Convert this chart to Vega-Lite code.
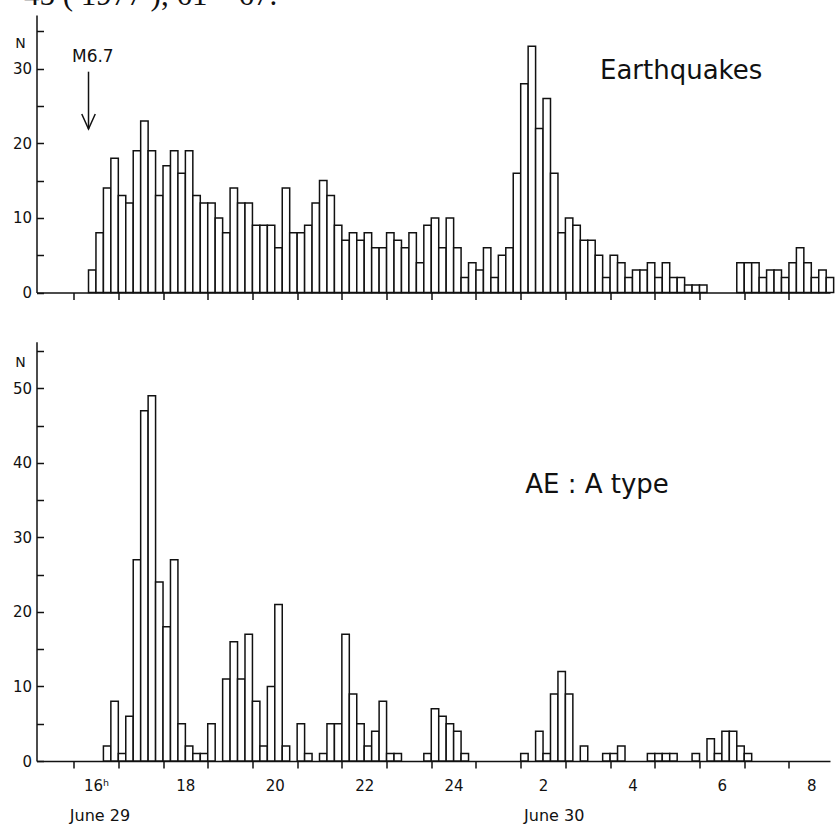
{
  "$schema": "https://vega.github.io/schema/vega-lite/v6.json",
  "autosize": {"type": "none"},
  "width": 793.5,
  "height": 746,
  "padding": {"left": 36.5, "top": 15, "right": 5, "bottom": 64},
  "background": "white",
  "config": {
    "view": {"stroke": null},
    "font": "DejaVu Sans",
    "axis": {"grid": false, "domainColor": "#111", "tickColor": "#111", "domainWidth": 1.5, "tickWidth": 1.5, "labelColor": "#111", "titleColor": "#111", "labelFont": "DejaVu Sans", "titleFont": "DejaVu Sans"}
  },
  "datasets": {
    "eq": [
      {"s":20,"e":30,"n":3},{"s":30,"e":40,"n":8},{"s":40,"e":50,"n":14},{"s":50,"e":60,"n":18},{"s":60,"e":70,"n":13},{"s":70,"e":80,"n":12},{"s":80,"e":90,"n":19},{"s":90,"e":100,"n":23},{"s":100,"e":110,"n":19},{"s":110,"e":120,"n":13},
      {"s":120,"e":130,"n":17},{"s":130,"e":140,"n":19},{"s":140,"e":150,"n":16},{"s":150,"e":160,"n":19},{"s":160,"e":170,"n":13},{"s":170,"e":180,"n":12},{"s":180,"e":190,"n":12},{"s":190,"e":200,"n":10},{"s":200,"e":210,"n":8},{"s":210,"e":220,"n":14},
      {"s":220,"e":230,"n":12},{"s":230,"e":240,"n":12},{"s":240,"e":250,"n":9},{"s":250,"e":260,"n":9},{"s":260,"e":270,"n":9},{"s":270,"e":280,"n":6},{"s":280,"e":290,"n":14},{"s":290,"e":300,"n":8},{"s":300,"e":310,"n":8},{"s":310,"e":320,"n":9},
      {"s":320,"e":330,"n":12},{"s":330,"e":340,"n":15},{"s":340,"e":350,"n":13},{"s":350,"e":360,"n":9},{"s":360,"e":370,"n":7},{"s":370,"e":380,"n":8},{"s":380,"e":390,"n":7},{"s":390,"e":400,"n":8},{"s":400,"e":410,"n":6},{"s":410,"e":420,"n":6},
      {"s":420,"e":430,"n":8},{"s":430,"e":440,"n":7},{"s":440,"e":450,"n":6},{"s":450,"e":460,"n":8},{"s":460,"e":470,"n":4},{"s":470,"e":480,"n":9},{"s":480,"e":490,"n":10},{"s":490,"e":500,"n":6},{"s":500,"e":510,"n":10},{"s":510,"e":520,"n":6},
      {"s":520,"e":530,"n":2},{"s":530,"e":540,"n":4},{"s":540,"e":550,"n":3},{"s":550,"e":560,"n":6},{"s":560,"e":570,"n":2},{"s":570,"e":580,"n":5},{"s":580,"e":590,"n":6},{"s":590,"e":600,"n":16},{"s":600,"e":610,"n":28},{"s":610,"e":620,"n":33},
      {"s":620,"e":630,"n":22},{"s":630,"e":640,"n":26},{"s":640,"e":650,"n":16},{"s":650,"e":660,"n":8},{"s":660,"e":670,"n":10},{"s":670,"e":680,"n":9},{"s":680,"e":690,"n":7},{"s":690,"e":700,"n":7},{"s":700,"e":710,"n":5},{"s":710,"e":720,"n":2},
      {"s":720,"e":730,"n":5},{"s":730,"e":740,"n":4},{"s":740,"e":750,"n":2},{"s":750,"e":760,"n":3},{"s":760,"e":770,"n":3},{"s":770,"e":780,"n":4},{"s":780,"e":790,"n":2},{"s":790,"e":800,"n":4},{"s":800,"e":810,"n":2},{"s":810,"e":820,"n":2},
      {"s":820,"e":830,"n":1},{"s":830,"e":840,"n":1},{"s":840,"e":850,"n":1},
      {"s":890,"e":900,"n":4},{"s":900,"e":910,"n":4},{"s":910,"e":920,"n":4},{"s":920,"e":930,"n":2},{"s":930,"e":940,"n":3},{"s":940,"e":950,"n":3},{"s":950,"e":960,"n":2},{"s":960,"e":970,"n":4},{"s":970,"e":980,"n":6},{"s":980,"e":990,"n":4},{"s":990,"e":1000,"n":2},{"s":1000,"e":1010,"n":3},{"s":1010,"e":1020,"n":2}
    ],
    "ae": [
      {"s":40,"e":50,"n":2},{"s":50,"e":60,"n":8},{"s":60,"e":70,"n":1},{"s":70,"e":80,"n":6},{"s":80,"e":90,"n":27},{"s":90,"e":100,"n":47},{"s":100,"e":110,"n":49},{"s":110,"e":120,"n":24},{"s":120,"e":130,"n":18},{"s":130,"e":140,"n":27},
      {"s":140,"e":150,"n":5},{"s":150,"e":160,"n":2},{"s":160,"e":170,"n":1},{"s":170,"e":180,"n":1},{"s":180,"e":190,"n":5},{"s":200,"e":210,"n":11},{"s":210,"e":220,"n":16},{"s":220,"e":230,"n":11},{"s":230,"e":240,"n":17},
      {"s":240,"e":250,"n":8},{"s":250,"e":260,"n":2},{"s":260,"e":270,"n":10},{"s":270,"e":280,"n":21},{"s":280,"e":290,"n":2},{"s":300,"e":310,"n":5},{"s":310,"e":320,"n":1},{"s":330,"e":340,"n":1},{"s":340,"e":350,"n":5},
      {"s":350,"e":360,"n":5},{"s":360,"e":370,"n":17},{"s":370,"e":380,"n":9},{"s":380,"e":390,"n":5},{"s":390,"e":400,"n":2},{"s":400,"e":410,"n":4},{"s":410,"e":420,"n":8},{"s":420,"e":430,"n":1},{"s":430,"e":440,"n":1},
      {"s":470,"e":480,"n":1},{"s":480,"e":490,"n":7},{"s":490,"e":500,"n":6},{"s":500,"e":510,"n":5},{"s":510,"e":520,"n":4},{"s":520,"e":530,"n":1},
      {"s":600,"e":610,"n":1},{"s":620,"e":630,"n":4},{"s":630,"e":640,"n":1},{"s":640,"e":650,"n":9},{"s":650,"e":660,"n":12},{"s":660,"e":670,"n":9},{"s":680,"e":690,"n":2},
      {"s":710,"e":720,"n":1},{"s":720,"e":730,"n":1},{"s":730,"e":740,"n":2},
      {"s":770,"e":780,"n":1},{"s":780,"e":790,"n":1},{"s":790,"e":800,"n":1},{"s":800,"e":810,"n":1},{"s":830,"e":840,"n":1},{"s":850,"e":860,"n":3},{"s":860,"e":870,"n":1},{"s":870,"e":880,"n":4},{"s":880,"e":890,"n":4},{"s":890,"e":900,"n":2},{"s":900,"e":910,"n":1}
    ]
  },
  "layer": [
    {
      "layer": [
        {
          "data": {"name": "eq"},
          "mark": {"type": "bar", "fill": "white", "stroke": "#111", "strokeWidth": 1.5},
          "encoding": {
            "x": {"field": "s", "type": "quantitative", "scale": {"domain": [-49.8, 1015.1], "nice": false, "zero": false},
              "axis": {"orient": "bottom", "offset": -468.5, "values": [0,60,120,180,240,300,360,420,480,540,600,660,720,780,840,900,960], "tickSize": 7, "labels": false, "title": null}},
            "x2": {"field": "e"},
            "y": {"field": "n", "type": "quantitative", "scale": {"domain": [0, 37.2], "range": [277.5, 0], "nice": false},
              "axis": {"orient": "left", "values": [0,5,10,15,20,25,30,35], "labelExpr": "datum.value % 10 === 0 ? datum.label : ''", "tickSize": -7, "labelPadding": 12, "labelFontSize": 15, "title": "N", "titleAngle": 0, "titleX": -16.5, "titleY": 28, "titleAlign": "center", "titleBaseline": "middle", "titleFontSize": 14, "titleFontWeight": "normal"}},
            "y2": {"datum": 0}
          }
        },
        {
          "data": {"values": [{"s": -2.2, "n": 30.94, "t": "M6.7"}]},
          "mark": {"type": "text", "align": "left", "baseline": "alphabetic", "fontSize": 17, "font": "DejaVu Sans", "color": "#111"},
          "encoding": {"x": {"field": "s", "type": "quantitative"}, "y": {"field": "n", "type": "quantitative"}, "text": {"field": "t"}}
        },
        {
          "data": {"values": [{"s": 20, "n": 29.6, "n2": 21.9}]},
          "mark": {"type": "rule", "color": "#111", "strokeWidth": 1.5},
          "encoding": {"x": {"field": "s", "type": "quantitative"}, "y": {"field": "n", "type": "quantitative"}, "y2": {"field": "n2"}}
        },
        {
          "data": {"values": [{"s": 20, "n": 22.92}]},
          "mark": {"type": "point", "shape": "M-0.9,-1L0,1L0.9,-1", "size": 225, "filled": false, "stroke": "#111", "strokeWidth": 1.5, "opacity": 1},
          "encoding": {"x": {"field": "s", "type": "quantitative"}, "y": {"field": "n", "type": "quantitative"}}
        },
        {
          "data": {"values": [{"s": 706.4, "n": 28.65, "t": "Earthquakes"}]},
          "mark": {"type": "text", "align": "left", "baseline": "alphabetic", "fontSize": 26, "font": "DejaVu Sans", "color": "#111"},
          "encoding": {"x": {"field": "s", "type": "quantitative"}, "y": {"field": "n", "type": "quantitative"}, "text": {"field": "t"}}
        },
        {
          "data": {"values": [{"s": -66.6, "n": 38.56, "t": "45 ( 1977 ), 61 – 67."}]},
          "mark": {"type": "text", "align": "left", "baseline": "alphabetic", "fontSize": 31, "font": "Liberation Serif", "color": "#111"},
          "encoding": {"x": {"field": "s", "type": "quantitative"}, "y": {"field": "n", "type": "quantitative"}, "text": {"field": "t"}}
        }
      ]
    },
    {
      "layer": [
        {
          "data": {"name": "ae"},
          "mark": {"type": "bar", "fill": "white", "stroke": "#111", "strokeWidth": 1.5},
          "encoding": {
            "x": {"field": "s", "type": "quantitative", "scale": {"domain": [-49.8, 1015.1], "nice": false, "zero": false},
              "axis": {"orient": "bottom", "values": [0,60,120,180,240,300,360,420,480,540,600,660,720,780,840,900,960], "tickSize": 7, "labelOffset": 22.35, "labelPadding": 10, "labelFontSize": 15, "labelFlush": false, "labelOverlap": false, "labelBound": false,
                "labelExpr": "datum.value % 120 === 0 ? (datum.value === 0 ? '16ʰ' : '' + ((16 + datum.value / 60) > 24 ? (16 + datum.value / 60 - 24) : (16 + datum.value / 60))) : ''", "title": null}},
            "x2": {"field": "e"},
            "y": {"field": "n", "type": "quantitative", "scale": {"domain": [0, 56.25], "range": [746, 326.7], "nice": false},
              "axis": {"orient": "left", "values": [0,5,10,15,20,25,30,35,40,45,50,55], "labelExpr": "datum.value % 10 === 0 ? datum.label : ''", "tickSize": -7, "labelPadding": 12, "labelFontSize": 15, "title": "N", "titleAngle": 0, "titleX": -16.5, "titleY": 347, "titleAlign": "center", "titleBaseline": "middle", "titleFontSize": 14, "titleFontWeight": "normal"}},
            "y2": {"datum": 0}
          }
        },
        {
          "data": {"values": [{"s": 606, "n": 35.9, "t": "AE : A type"}]},
          "mark": {"type": "text", "align": "left", "baseline": "alphabetic", "fontSize": 26, "font": "DejaVu Sans", "color": "#111"},
          "encoding": {"x": {"field": "s", "type": "quantitative"}, "y": {"field": "n", "type": "quantitative"}, "text": {"field": "t"}}
        },
        {
          "data": {"values": [{"s": 35.4, "n": -7.38, "t": "June 29"}, {"s": 645, "n": -7.38, "t": "June 30"}]},
          "mark": {"type": "text", "align": "center", "baseline": "middle", "fontSize": 16, "font": "DejaVu Sans", "color": "#111"},
          "encoding": {"x": {"field": "s", "type": "quantitative"}, "y": {"field": "n", "type": "quantitative"}, "text": {"field": "t"}}
        }
      ]
    }
  ],
  "resolve": {"scale": {"y": "independent", "x": "independent"}, "axis": {"y": "independent", "x": "independent"}}
}
